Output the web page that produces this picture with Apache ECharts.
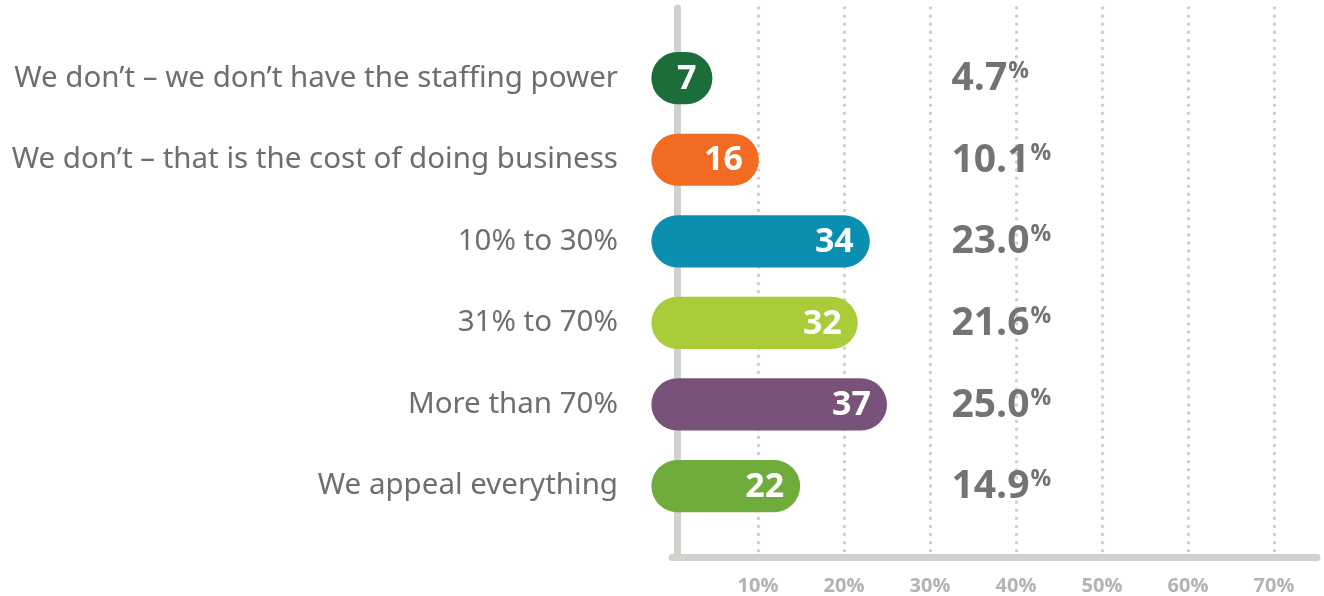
<!DOCTYPE html>
<html>
<head>
<meta charset="utf-8">
<script src="https://cdn.jsdelivr.net/npm/echarts@6/dist/echarts.min.js"></script>
<style>
  html, body { margin: 0; padding: 0; background: #fff; }
  #chart { width: 1324px; height: 596px; }
</style>
</head>
<body>
<div id="chart"></div>
<script>
var categories = [
    'We don\u2019t \u2013 we don\u2019t have the staffing power',
    'We don\u2019t \u2013 that is the cost of doing business',
    '10% to 30%',
    '31% to 70%',
    'More than 70%',
    'We appeal everything'
];
var counts = [7, 16, 34, 32, 37, 22];
var percents = [4.7, 10.1, 23.0, 21.6, 25.0, 14.9];
var barColors = ['#1b6e3a', '#f26b22', '#0a8fb1', '#a8cc3a', '#785279', '#70ac3c'];

var myChart = echarts.init(document.getElementById('chart'));

function renderRow(params, api) {
    var i = api.value(0);
    var start = api.coord([-2.4, i]);
    var end = api.coord([api.value(1), i]);
    var h = api.size([0, 1])[1] * 0.64;
    var zero = api.coord([0, i]);
    var pctPos = api.coord([32.5, i]);
    return {
        type: 'group',
        children: [
            {
                type: 'rect',
                shape: { x: start[0], y: start[1] - h / 2, width: end[0] - start[0], height: h, r: h / 2 },
                style: { fill: barColors[i] }
            },
            {
                type: 'text',
                x: end[0] - 16,
                y: end[1] + 1,
                style: {
                    text: String(api.value(2)),
                    fill: '#fff',
                    font: 'bold 34px "Open Sans"',
                    align: 'right',
                    verticalAlign: 'middle'
                }
            },
            {
                type: 'text',
                x: zero[0] - 54,
                y: zero[1],
                style: {
                    text: categories[i],
                    fill: '#6d6e71',
                    font: '29.5px "Noto Sans"',
                    align: 'right',
                    verticalAlign: 'middle'
                }
            },
            {
                type: 'text',
                x: pctPos[0],
                y: pctPos[1] + 1,
                style: {
                    text: '{v|' + api.value(1).toFixed(1) + '}{p|%}',
                    align: 'left',
                    verticalAlign: 'middle',
                    rich: {
                        v: { font: 'bold 39px "Open Sans"', fill: '#737373', lineHeight: 40 },
                        p: { font: 'bold 23px "Open Sans"', fill: '#737373', verticalAlign: 'top', lineHeight: 23, padding: [1, 0, 0, 1] }
                    }
                }
            }
        ]
    };
}

var rowData = categories.map(function (c, i) {
    return [i, percents[i], counts[i]];
});

var chartOption = {
    animation: false,
    grid: { left: 672, right: 7, top: 8, bottom: 37 },
    xAxis: {
        type: 'value',
        min: 0,
        max: 75,
        interval: 10,
        axisLine: { show: true, onZero: false, lineStyle: { color: '#d1d1cd', width: 7, cap: 'round' } },
        axisTick: { show: false },
        axisLabel: {
            showMinLabel: false,
            showMaxLabel: false,
            margin: 19,
            color: '#b3b3b3',
            fontFamily: 'Open Sans',
            fontWeight: 'bold',
            fontSize: 20,
            formatter: '{value}%'
        },
        splitLine: {
            show: true,
            showMinLine: false,
            showMaxLine: false,
            lineStyle: { color: '#cfcfcf', width: 3.4, type: [0.1, 8], cap: 'round' }
        }
    },
    yAxis: {
        type: 'value',
        inverse: true,
        min: -0.86,
        max: 5.87,
        offset: -5,
        axisLine: { show: true, onZero: false, lineStyle: { color: '#d1d1cd', width: 7, cap: 'round' } },
        axisTick: { show: false },
        axisLabel: { show: false },
        splitLine: { show: false }
    },
    series: [{
        type: 'custom',
        renderItem: renderRow,
        encode: { x: 1, y: 0 },
        data: rowData,
        z: 5
    }]
};
myChart.setOption(chartOption);
</script>
</body>
</html>
